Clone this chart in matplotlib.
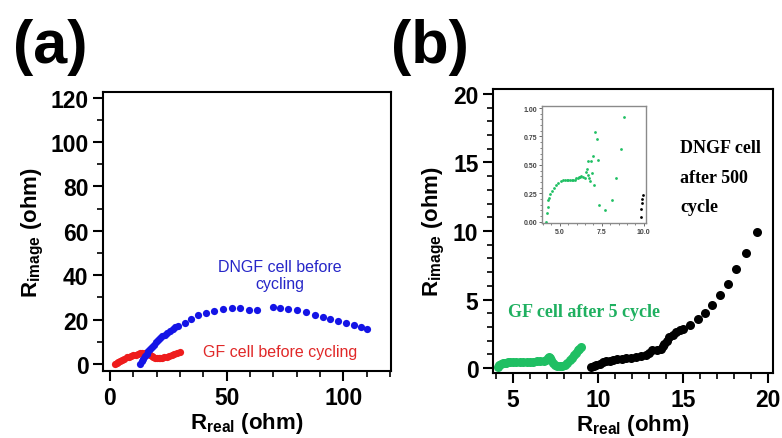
import matplotlib
matplotlib.use("Agg")
import matplotlib.pyplot as plt
from matplotlib.ticker import MultipleLocator

plt.rcParams['font.family'] = ['Liberation Sans', 'DejaVu Sans']
plt.rcParams['mathtext.fontset'] = 'custom'
plt.rcParams['mathtext.rm'] = 'Liberation Sans:bold'
plt.rcParams['mathtext.bf'] = 'Liberation Sans:bold'

# (a) datos antes del ciclado
gf_a_x = [2.1, 2.8, 3.5, 4.3, 5.2, 6.1, 7.1, 8.1, 9.1, 10.0, 11.0, 12.0, 12.9, 13.8, 14.8, 15.7,
          16.5, 17.2, 17.9, 18.6, 19.3, 20.0, 20.8, 21.5, 22.1, 23.0, 24.3, 25.4, 26.4, 27.5, 28.6, 30.0]
gf_a_y = [0.0, 0.5, 1.0, 1.5, 2.0, 2.5, 3.0, 3.4, 3.7, 4.0, 4.3, 4.6, 4.8, 4.9, 5.0, 5.0,
          4.6, 4.1, 3.7, 3.2, 2.9, 2.7, 2.6, 2.6, 2.7, 3.0, 3.4, 3.8, 4.3, 4.7, 5.0, 5.5]
dngf_a_x = [12.9, 13.6, 14.3, 15.0, 15.7, 16.4, 17.1, 17.9, 18.7, 19.6, 20.5, 21.4, 22.4, 23.4,
            24.5, 25.6, 26.8, 28.0, 29.3, 32.1, 34.6, 37.9, 41.1, 44.7, 48.3, 52.1, 55.7, 59.7,
            63.1, 69.7, 72.9, 76.4, 80.0, 84.0, 87.9, 91.1, 94.3, 97.9, 101.1, 104.6, 107.4, 110.3]
dngf_a_y = [0.0, 1.2, 2.4, 3.6, 4.7, 5.8, 6.8, 7.8, 8.8, 9.8, 10.7, 11.6, 12.5, 13.3,
            14.2, 15.0, 15.8, 16.5, 17.2, 18.7, 20.5, 22.0, 23.2, 24.1, 24.7, 25.2, 25.3, 24.4,
            24.4, 25.6, 25.2, 24.7, 24.4, 23.5, 22.2, 21.4, 20.5, 19.5, 18.7, 17.7, 16.9, 16.0]

# (b) datos despues del ciclado
gf_b_x = [4.12, 4.2, 4.3, 4.4, 4.5, 4.6, 4.7, 4.8, 5.0, 5.2, 5.4, 5.6, 5.8, 6.0, 6.2, 6.4, 6.6,
          6.8, 6.96, 7.05, 7.1, 7.18, 7.25, 7.35, 7.45, 7.6, 7.75, 7.9, 8.04, 8.2, 8.33, 8.45,
          8.6, 8.7, 8.8, 8.9, 9.0]
gf_b_y = [0.07, 0.2, 0.3, 0.35, 0.38, 0.4, 0.42, 0.44, 0.45, 0.46, 0.46, 0.47, 0.47, 0.48, 0.48,
          0.49, 0.5, 0.52, 0.56, 0.72, 0.8, 0.7, 0.56, 0.35, 0.2, 0.15, 0.12, 0.16, 0.24, 0.38,
          0.56, 0.75, 0.97, 1.12, 1.3, 1.42, 1.53]
dngf_b_x = [9.6, 9.75, 9.9, 10.1, 10.3, 10.5, 10.7, 10.9, 11.1, 11.4, 11.67, 11.95, 12.25, 12.55,
            12.84, 13.0, 13.2, 13.45, 13.7, 13.8, 13.9, 14.05, 14.2, 14.4, 14.6, 14.8, 15.0, 15.4,
            15.9, 16.3, 16.7, 17.2, 17.65, 18.1, 18.7, 19.37]
dngf_b_y = [0.07, 0.15, 0.24, 0.33, 0.41, 0.49, 0.54, 0.59, 0.63, 0.68, 0.73, 0.76, 0.8, 0.86,
            0.97, 1.1, 1.29, 1.35, 1.41, 1.6, 1.78, 2.0, 2.26, 2.45, 2.63, 2.75, 2.87, 3.16,
            3.55, 4.03, 4.6, 5.35, 6.14, 7.2, 8.4, 9.95]

# inset
ins_gf_x = [4.17, 4.21, 4.27, 4.31, 4.37, 4.44, 4.54, 4.64, 4.76, 4.9, 5.06, 5.2, 5.3, 5.4, 5.5,
            5.6, 5.7, 5.79, 5.9, 5.99, 6.07, 6.15, 6.22, 6.29, 6.39, 6.49, 6.55, 6.63, 6.65, 6.73,
            6.79, 6.69, 6.83, 6.92, 6.98, 7.06, 7.1, 7.24, 7.28, 7.32, 7.68, 8.08, 8.37, 8.63, 8.81]
ins_gf_y = [0.0, 0.08, 0.13, 0.19, 0.21, 0.24, 0.27, 0.30, 0.32, 0.34, 0.36, 0.37, 0.37, 0.37, 0.37,
            0.37, 0.37, 0.37, 0.37, 0.38, 0.385, 0.39, 0.395, 0.40, 0.39, 0.38, 0.44, 0.46, 0.41, 0.38,
            0.36, 0.53, 0.53, 0.43, 0.58, 0.32, 0.79, 0.73, 0.54, 0.15, 0.10, 0.19, 0.38, 0.64, 0.92]
ins_dngf_x = [9.82, 9.82, 9.86, 9.9, 9.96]
ins_dngf_y = [0.04, 0.11, 0.16, 0.20, 0.235]

fig = plt.figure(figsize=(7.82, 4.39), dpi=100)

def estilo(ax, tsize=16.5):
    for s in ax.spines.values():
        s.set_linewidth(1.5)
    ax.tick_params(which='major', direction='out', length=7, width=1.5, labelsize=tsize)
    ax.tick_params(which='minor', direction='out', length=4.5, width=1.2)
    for lab in ax.get_xticklabels() + ax.get_yticklabels():
        lab.set_fontweight('bold')

# ---- panel (a)
ax1 = fig.add_axes([0.1317, 0.1526, 0.3683, 0.6354])
ax1.plot(gf_a_x, gf_a_y, 'o', color='#ee1c1c', markersize=5.2, markeredgewidth=0)
ax1.plot(dngf_a_x, dngf_a_y, 'o', color='#1414e6', markersize=5.2, markeredgewidth=0)
ax1.set_xlim(-3, 120.4)
ax1.set_ylim(-3.1, 122.5)
ax1.xaxis.set_major_locator(MultipleLocator(50))
ax1.xaxis.set_minor_locator(MultipleLocator(10))
ax1.yaxis.set_major_locator(MultipleLocator(20))
ax1.yaxis.set_minor_locator(MultipleLocator(10))
estilo(ax1)
ax1.set_xlabel(r'R$_{\mathbf{real}}$ (ohm)', fontsize=16, fontweight='bold', labelpad=1)
ax1.set_ylabel(r'R$_{\mathbf{image}}$ (ohm)', fontsize=16, fontweight='bold', labelpad=3)
ax1.text(72.9, 34.2, 'DNGF cell before\ncycling', color='#2626c8', fontsize=11.5,
         ha='center', va='baseline', linespacing=1.15)
ax1.text(72.9, 3.6, 'GF cell before cycling', color='#e02828', fontsize=11.5,
         ha='center', va='baseline')

# ---- panel (b)
ax2 = fig.add_axes([0.6304, 0.148, 0.3581, 0.647])
ax2.plot(gf_b_x, gf_b_y, 'o', color='#1fbf63', markersize=6.5, markeredgewidth=0)
ax2.plot(dngf_b_x, dngf_b_y, 'o', color='black', markersize=6.5, markeredgewidth=0)
ax2.set_xlim(3.82, 20.3)
ax2.set_ylim(-0.36, 20.36)
ax2.xaxis.set_major_locator(MultipleLocator(5))
ax2.xaxis.set_minor_locator(MultipleLocator(1))
ax2.yaxis.set_major_locator(MultipleLocator(5))
ax2.yaxis.set_minor_locator(MultipleLocator(1))
estilo(ax2)
ax2.set_xlabel(r'R$_{\mathbf{real}}$ (ohm)', fontsize=16, fontweight='bold', labelpad=1)
ax2.set_ylabel(r'R$_{\mathbf{image}}$ (ohm)', fontsize=16, fontweight='bold', labelpad=4)
ax2.text(14.82, 11.46, 'DNGF cell\nafter 500\ncycle', color='black', fontsize=13,
         family=['Liberation Serif', 'DejaVu Serif'], fontweight='bold',
         ha='left', va='baseline', linespacing=1.95)
ax2.text(4.7, 3.8, 'GF cell after 5 cycle', color='#1fb060', fontsize=13,
         family=['Liberation Serif', 'DejaVu Serif'], fontweight='bold',
         ha='left', va='baseline')

# inset
axi = fig.add_axes([0.6933, 0.4897, 0.1322, 0.2665])
axi.plot(ins_gf_x, ins_gf_y, 'o', color='#1fbf63', markersize=2, markeredgewidth=0)
axi.plot(ins_dngf_x, ins_dngf_y, 'o', color='black', markersize=2, markeredgewidth=0)
axi.set_xlim(3.95, 10.1)
axi.set_ylim(-0.012, 1.018)
axi.xaxis.set_major_locator(MultipleLocator(2.5))
axi.xaxis.set_minor_locator(MultipleLocator(0.5))
axi.yaxis.set_major_locator(MultipleLocator(0.25))
axi.yaxis.set_minor_locator(MultipleLocator(0.05))
axi.xaxis.set_major_formatter(lambda v, p: f'{v:.1f}')
axi.yaxis.set_major_formatter(lambda v, p: f'{v:.2f}')
for s in axi.spines.values():
    s.set_linewidth(1.0)
    s.set_color('#8a8a8a')
axi.tick_params(which='major', direction='out', length=2.5, width=0.6, labelsize=5,
                color='#555555', labelcolor='#444444', pad=1)
axi.tick_params(which='minor', direction='out', length=1.5, width=0.5, color='#555555')
for lab in axi.get_xticklabels() + axi.get_yticklabels():
    lab.set_fontweight('bold')

# etiquetas de panel
fig.text(13 / 782, 1 - 63 / 439, '(a)', fontsize=44, fontweight='bold', va='baseline', ha='left')
fig.text(391 / 782, 1 - 63 / 439, '(b)', fontsize=44, fontweight='bold', va='baseline', ha='left')

fig.savefig('out.png', dpi=100)
